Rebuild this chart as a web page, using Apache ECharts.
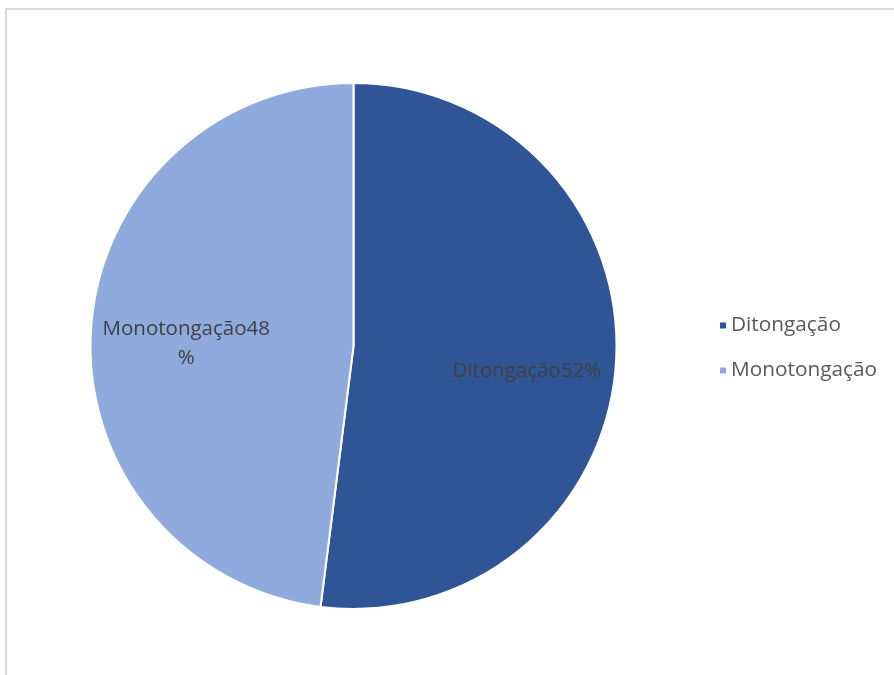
<!DOCTYPE html>
<html>
<head>
<meta charset="utf-8">
<script src="https://cdn.jsdelivr.net/npm/echarts@6/dist/echarts.min.js"></script>
<style>
  html, body { margin: 0; padding: 0; background: #ffffff; }
  #chart { width: 894px; height: 675px; }
</style>
</head>
<body>
<div id="chart"></div>
<script>
// Share of realisations by process (percent)
const categories = ['Ditongação', 'Monotongação'];
const shares = [52, 48];
const colors = ['#2F5597', '#8FAADC'];

const FONT = '"Open Sans", Lato, "Liberation Sans", sans-serif';

// Per-slice label nudges (pixels) relative to the default inside position
const labelOffsets = [[39, 17], [-33, 6]];

const chart = echarts.init(document.getElementById('chart'), null, { renderer: 'canvas' });

chart.setOption({
  backgroundColor: '#ffffff',
  animation: false,
  graphic: [{
    type: 'rect',
    shape: { x: 6, y: 9, width: 1000, height: 1000 },
    style: { fill: 'none', stroke: '#d9d9d9', lineWidth: 2 },
    silent: true
  }],
  legend: {
    orient: 'vertical',
    left: 713,
    top: 310,
    icon: 'rect',
    itemWidth: 8,
    itemHeight: 8,
    itemGap: 24,
    textStyle: { color: '#595959', fontSize: 20.8, fontFamily: FONT, padding: [0, 0, 0, -1] },
    data: categories
  },
  series: [{
    type: 'pie',
    center: [353.5, 346],
    radius: [0, 263],
    startAngle: 90,
    clockwise: true,
    avoidLabelOverlap: false,
    itemStyle: { borderColor: '#ffffff', borderWidth: 2 },
    label: {
      show: true,
      position: 'inside',
      color: '#404040',
      fontSize: 20.5,
      fontFamily: FONT,
      lineHeight: 29,
      formatter: (p) => p.dataIndex === 1 ? p.name + p.value + '\n%' : p.name + p.value + '%'
    },
    labelLine: { show: false },
    emphasis: { disabled: true },
    data: categories.map((name, i) => ({
      name: name,
      value: shares[i],
      itemStyle: { color: colors[i] },
      label: { offset: labelOffsets[i] }
    }))
  }]
});
</script>
</body>
</html>
